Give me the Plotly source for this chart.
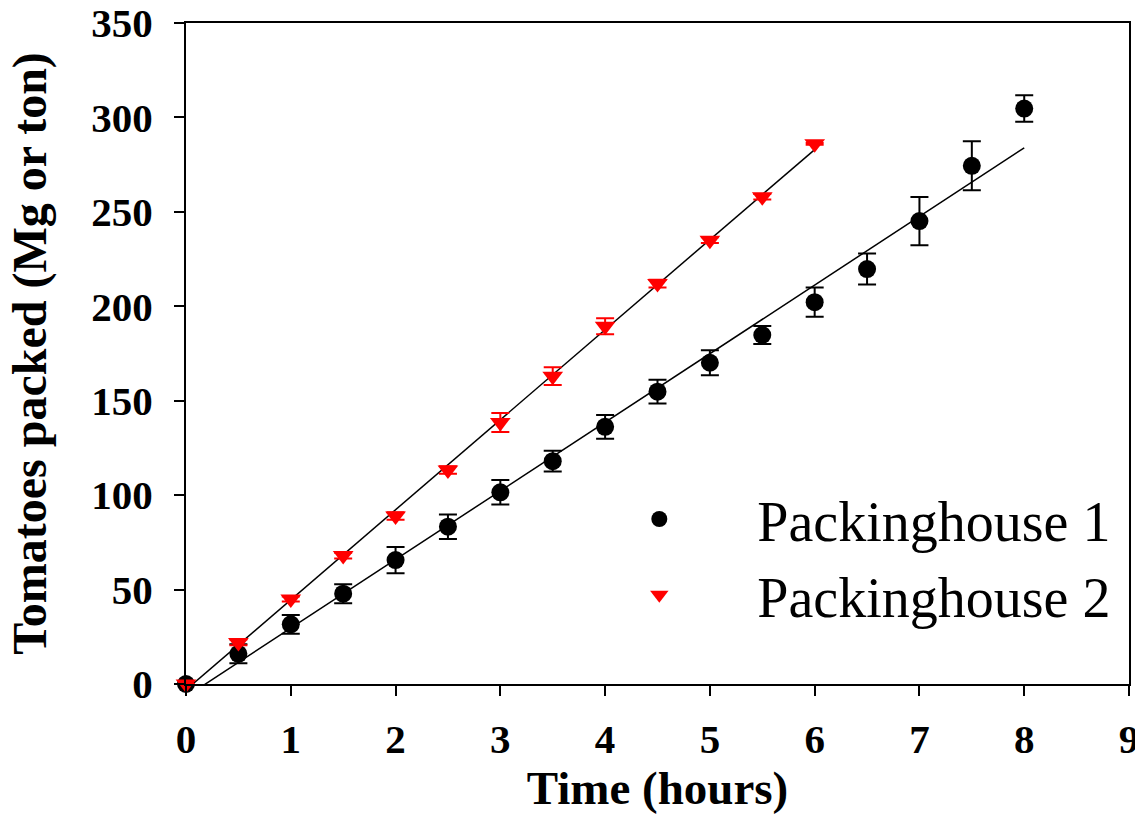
import numpy as np
import plotly.graph_objects as go

# Elapsed packing time (hours)
time_ph1 = [0, 0.5, 1, 1.5, 2, 2.5, 3, 3.5, 4, 4.5, 5, 5.5, 6, 6.5, 7, 7.5, 8]
time_ph2 = [0, 0.5, 1, 1.5, 2, 2.5, 3, 3.5, 4, 4.5, 5, 5.5, 6]

# Cumulative tomatoes packed (Mg) and standard errors
packed_ph1 = [0, 16, 31.6, 47.8, 65.6, 83.3, 101.5, 118, 136.2, 154.8,
              170.1, 184.8, 202.2, 219.7, 245.1, 274.4, 304.7]
err_ph1 = [0, 5, 5, 5, 7, 6.5, 6.5, 5.5, 6.3, 6.3, 6.6, 4.8, 7.7, 8.2, 12.8, 13, 7]

packed_ph2 = [0, 22, 45, 68, 89, 113.3, 138.5, 163, 189.4, 212, 235, 258, 286]
err_ph2 = [0, 1.5, 1.3, 1.5, 2, 2, 5, 4.7, 4.2, 2, 1.5, 1.5, 0.5]

series_names = ["Packinghouse 1", "Packinghouse 2"]

x_ticks = list(range(0, 10))
y_ticks = list(range(0, 351, 50))

SERIF = "Liberation Serif"

fig = go.Figure()

# Least-squares regression lines for each packinghouse
for t, y in [(time_ph1, packed_ph1), (time_ph2, packed_ph2)]:
    slope, intercept = np.polyfit(t, y, 1)
    tx = np.array([0.0, max(t)])
    fig.add_trace(go.Scatter(
        x=tx, y=slope * tx + intercept, mode="lines",
        line=dict(color="black", width=1.5), showlegend=False, hoverinfo="skip",
    ))

fig.add_trace(go.Scatter(
    x=time_ph1, y=packed_ph1, mode="markers", name=series_names[0],
    marker=dict(symbol="circle", size=18, color="black"),
    error_y=dict(type="data", array=err_ph1, visible=True,
                 color="black", thickness=2, width=9),
    cliponaxis=False,
))

fig.add_trace(go.Scatter(
    x=time_ph2, y=packed_ph2, mode="markers", name=series_names[1],
    marker=dict(symbol="triangle-down", size=18, color="red"),
    error_y=dict(type="data", array=err_ph2, visible=True,
                 color="red", thickness=2, width=9),
    cliponaxis=False,
))

axis_common = dict(
    showline=True, linecolor="black", linewidth=2, mirror=True,
    ticks="outside", ticklen=10, tickwidth=2, tickcolor="black",
    showgrid=False, zeroline=False, automargin=False,
    ticklabeloverflow="allow",
    tickfont=dict(family=SERIF, size=41, color="black", weight="bold"),
)

fig.update_layout(
    width=1135, height=814,
    margin=dict(l=186, r=6, t=23, b=130),
    paper_bgcolor="white", plot_bgcolor="white",
    xaxis=dict(
        range=[0, 9], tickvals=x_ticks, ticklabelstandoff=8,
        title=dict(text="Time (hours)", standoff=22,
                   font=dict(family=SERIF, size=47, color="black", weight="bold")),
        **axis_common,
    ),
    yaxis=dict(
        range=[0, 350], tickvals=y_ticks, ticklabelstandoff=13,
        title=dict(text="Tomatoes packed (Mg or ton)", standoff=29,
                   font=dict(family=SERIF, size=48, color="black", weight="bold")),
        **axis_common,
    ),
    legend=dict(
        x=0.398, y=0.192, xanchor="left", yanchor="middle",
        bgcolor="rgba(0,0,0,0)", borderwidth=0,
        font=dict(family=SERIF, size=56, color="black"),
        itemwidth=186,
    ),
    showlegend=True,
)

fig.write_html("out.html")
